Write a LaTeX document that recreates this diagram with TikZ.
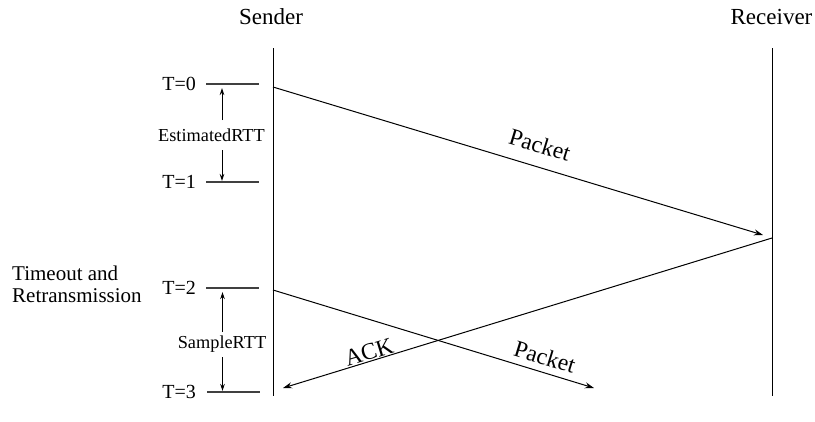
\documentclass[tikz,border=0pt]{standalone}
\usepackage{fontspec}
\setmainfont{Liberation Serif}
\usetikzlibrary{arrows.meta}
\begin{document}
\begin{tikzpicture}[x=1pt,y=-1pt,
  head/.style={font=\fontsize{23}{25}\selectfont, inner sep=0pt},
  lbl/.style={font=\fontsize{20}{22}\selectfont, inner sep=0pt},
  side/.style={font=\fontsize{21}{22}\selectfont, inner sep=0pt},
  small/.style={font=\fontsize{18.3}{20}\selectfont, inner sep=0pt},
  msg/.style={font=\fontsize{23.5}{25}\selectfont, inner sep=0pt},
  life/.style={line width=1pt, black},
  tick/.style={line width=1.3pt, black!75},
  arr/.style={line width=1pt, -{Stealth[length=9pt,width=6pt]}},
  dim/.style={line width=0.9pt, -{Stealth[length=7pt,width=4.5pt]}}]
\useasboundingbox (0,0) rectangle (815,421);
% lifelines
\node[head] (snd) at (271,17) {Sender};
\node[head] (rcv) at (771.5,17) {Receiver};
\coordinate (s0) at (273,48);
\coordinate (s1) at (273,396);
\coordinate (r0) at (772,48);
\coordinate (r1) at (772,396);
\draw[life] (s0) -- (s1);
\draw[life] (r0) -- (r1);
% ticks
\coordinate (a0) at (206,84);  \coordinate (b0) at (259,84);
\coordinate (a1) at (206,182); \coordinate (b1) at (259,182);
\coordinate (a2) at (206,288); \coordinate (b2) at (259,288);
\coordinate (a3) at (207,392); \coordinate (b3) at (260,392);
\draw[tick] (a0) -- (b0);
\draw[tick] (a1) -- (b1);
\draw[tick] (a2) -- (b2);
\draw[tick] (a3) -- (b3);
\node[lbl, anchor=east] (t0) at (196,84) {T=0};
\node[lbl, anchor=east] (t1) at (196,182) {T=1};
\node[lbl, anchor=east] (t2) at (196,288) {T=2};
\node[lbl, anchor=east] (t3) at (196,392) {T=3};
\node[side, anchor=west, align=left] (to) at (12,284) {Timeout and\\Retransmission};
% estimated RTT
\node[small] (est) at (211.5,135) {EstimatedRTT};
\coordinate (e0) at (222,120); \coordinate (e1) at (222,88);
\coordinate (e2) at (222,150); \coordinate (e3) at (222,181);
\draw[dim] (e0) -- (e1);
\draw[dim] (e2) -- (e3);
% sample RTT
\node[small] (smp) at (222,344) {SampleRTT};
\coordinate (m0) at (222.5,332); \coordinate (m1) at (222.5,292);
\coordinate (m2) at (222.5,357); \coordinate (m3) at (222.5,391);
\draw[dim] (m0) -- (m1);
\draw[dim] (m2) -- (m3);
% messages
\coordinate (p1s) at (273,87);  \coordinate (p1e) at (763,235);
\coordinate (aks) at (772,238); \coordinate (ake) at (283,388);
\coordinate (p2s) at (273,290); \coordinate (p2e) at (594,388);
\draw[arr] (p1s) -- (p1e);
\draw[arr] (aks) -- (ake);
\draw[arr] (p2s) -- (p2e);
\node[msg, rotate=-17] (pk1) at (540,145) {Packet};
\node[msg, rotate=17] (ack) at (369,352) {ACK};
\node[msg, rotate=-17] (pk2) at (545,357) {Packet};
\end{tikzpicture}
\end{document}
